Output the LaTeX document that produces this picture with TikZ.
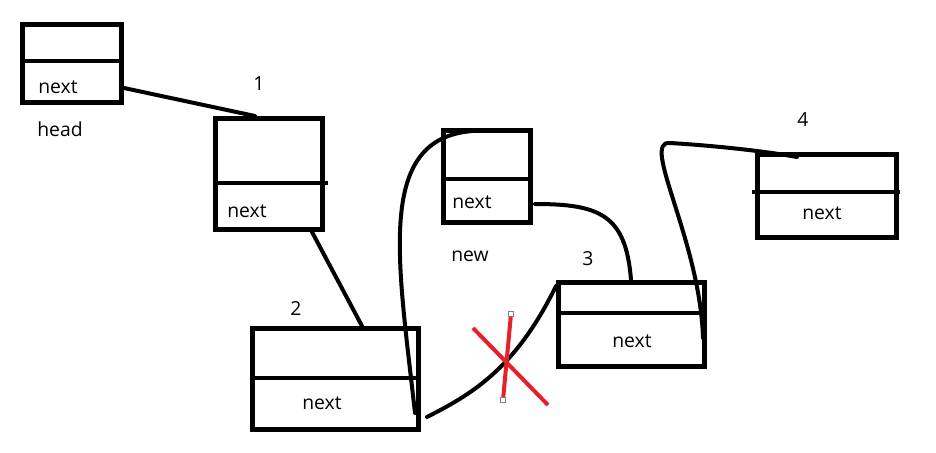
\documentclass[tikz,border=0pt]{standalone}
\usepackage{fontspec}
\setmainfont{Open Sans}
\begin{document}
\begin{tikzpicture}[x=0.75pt,y=-0.75pt,
  box/.style={draw=black,line width=3.75pt,inner sep=0pt,rectangle},
  div/.style={draw=black,line width=3pt},
  link/.style={draw=black,line width=3pt,line cap=round},
  lbl/.style={font=\fontsize{14.5}{16}\selectfont,inner sep=0pt},
  cross/.style={draw={rgb,255:red,232;green,32;blue,42},line width=3pt},
  handle/.style={draw=gray,fill=white,line width=0.6pt,minimum size=3.5pt,inner sep=0pt,rectangle}]
\useasboundingbox (0,0) rectangle (936,453);
\fill[white] (0,0) rectangle (936,453);
% boxes
\node[box,minimum width=74.25pt,minimum height=58.5pt] (h) at (72,63.5) {};
\node[box,minimum width=80.25pt,minimum height=83.25pt] (b1) at (269,174) {};
\node[box,minimum width=124.5pt,minimum height=75.75pt] (b2) at (335.5,379) {};
\node[box,minimum width=65.25pt,minimum height=69pt] (nw) at (487,176.5) {};
\node[box,minimum width=109.5pt,minimum height=63pt] (b3) at (631.5,324.5) {};
\node[box,minimum width=104.25pt,minimum height=62.25pt] (b4) at (827,196) {};
% dividers
\draw[div] (h.west |- 0,61) -- (h.east |- 0,61);
\draw[div] (b1.west |- 0,183) -- ([xshift=2pt]b1.east |- 0,183);
\draw[div] (b2.west |- 0,378) -- (b2.east |- 0,378);
\draw[div] (nw.west |- 0,179) -- (nw.east |- 0,179);
\draw[div] (b3.west |- 0,313) -- (b3.east |- 0,313);
\draw[div] ([xshift=-2pt]b4.west |- 0,192) -- ([xshift=1pt]b4.east |- 0,192);
% texts
\node[lbl] (th) at (58,87) {next};
\node[lbl] (thead) at (60,129) {head};
\node[lbl] (t1) at (247,211) {next};
\node[lbl] (n1) at (259,84) {1};
\node[lbl] (t2) at (322,403) {next};
\node[lbl] (n2) at (296,308) {2};
\node[lbl] (tn) at (472,202) {next};
\node[lbl] (tnew) at (470,256) {new};
\node[lbl] (t3) at (632,341) {next};
\node[lbl] (n3) at (588,259) {3};
\node[lbl] (t4) at (822,213) {next};
\node[lbl] (n4) at (803,120) {4};
% connector end points
\coordinate (a0) at (124,88);
\coordinate (a1) at (255,116);
\coordinate (c0) at (312,232);
\coordinate (c1) at (362,326);
\coordinate (d0) at (415,413);
\coordinate (d1) at (473,131);
\coordinate (e0) at (427,417);
\coordinate (e1) at (556,286);
\coordinate (f0) at (535,204);
\coordinate (f1) at (631,280);
\coordinate (g0) at (703,338);
\coordinate (g1) at (797,157);
% connectors
\draw[link] (a0) -- (a1);
\draw[link] (c0) -- (c1);
\draw[link] (d0) .. controls (398,260) and (375,138) .. (d1);
\draw[link] (e0) .. controls (470,395) and (515,370) .. (e1);
\draw[link] (f0) .. controls (600,204) and (626,215) .. (f1);
\draw[link] (g0) .. controls (700,240) and (640,140) .. (670,143) .. controls (720,146) and (770,152) .. (g1);
% red cross
\coordinate (x1) at (473,328);
\coordinate (x2) at (548,405);
\coordinate (x3) at (511,314);
\coordinate (x4) at (503,400);
\draw[cross] (x1) -- (x2);
\draw[cross] (x3) -- (x4);
\node[handle] (hx3) at (x3) {};
\node[handle] (hx4) at (x4) {};
\end{tikzpicture}
\end{document}
